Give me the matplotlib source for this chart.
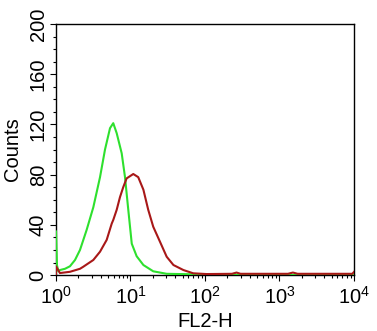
import numpy as np
import matplotlib
matplotlib.use("Agg")
import matplotlib.pyplot as plt
from matplotlib.ticker import MultipleLocator, LogLocator, NullFormatter

plt.rcParams["font.family"] = ["Liberation Sans", "DejaVu Sans"]
plt.rcParams["mathtext.fontset"] = "custom"
plt.rcParams["mathtext.rm"] = "Liberation Sans"
plt.rcParams["mathtext.it"] = "Liberation Sans"

X_LABEL = "FL2-H"
Y_LABEL = "Counts"
GREEN = "#2ee02e"
RED = "#a81818"

# isotype control (green): FL2-H channel value, counts
green_x = [1.0, 1.0, 1.03, 1.074, 1.13, 1.32, 1.54, 1.80, 2.10, 2.58, 3.17,
           3.90, 4.55, 5.31, 5.87, 6.53, 7.62, 8.44, 9.34, 10.4, 12.1, 14.9,
           20.2, 30.6, 86.0, 174.0, 400.0, 10000.0]
green_y = [0, 35, 8, 3, 4, 5, 7, 12, 20, 36, 54,
           78, 100, 117, 121, 113, 97, 78, 52, 25, 15, 8,
           3, 1, 0.5, 0.3, 0, 0]

# stained sample (red)
red_x = [1.0, 1.0, 1.13, 1.54, 2.10, 2.32, 3.17, 3.90, 4.79, 5.60, 5.88,
         6.53, 7.22, 7.99, 8.87, 10.9, 12.7, 14.9, 17.3, 20.2, 24.9,
         30.6, 37.7, 51.3, 69.5, 105.0, 230.0, 265.0, 300.0, 1300.0,
         1514.0, 1750.0, 9500.0, 10000.0]
red_y = [0, 7, 1.6, 2.6, 5, 6.6, 12, 18.6, 28, 41, 44,
         52, 62, 70, 77, 80.5, 78, 68, 52, 38.5, 26.5,
         14.6, 8, 4, 1.4, 0.8, 1, 2, 1, 1,
         2, 1, 1, 2.5]

fig = plt.figure(figsize=(3.77, 3.31), dpi=100)
ax = fig.add_axes([0.1485, 0.169, 0.7905, 0.7585])

ax.plot(green_x, green_y, color=GREEN, linewidth=1.5, zorder=3)
ax.plot(red_x, red_y, color=RED, linewidth=1.5, zorder=4)

ax.set_xscale("log")
ax.set_xlim(1, 1e4)
ax.set_ylim(0, 200)

ax.xaxis.set_major_locator(LogLocator(base=10, numticks=10))
ax.xaxis.set_minor_locator(LogLocator(base=10, subs=np.arange(2, 10), numticks=50))
ax.xaxis.set_minor_formatter(NullFormatter())
ax.yaxis.set_major_locator(MultipleLocator(40))
ax.yaxis.set_minor_locator(MultipleLocator(10))

ax.tick_params(which="both", direction="out", width=0.8, labelsize=14.5)
ax.tick_params(axis="x", pad=4)
ax.tick_params(axis="y", pad=2)
ax.tick_params(which="major", length=4)
ax.tick_params(which="minor", length=2.5)
for lbl in ax.get_yticklabels():
    lbl.set_rotation(90)
    lbl.set_va("center")

for s in ax.spines.values():
    s.set_linewidth(1.0)

ax.set_xlabel(X_LABEL, fontsize=14.5, labelpad=3)
ax.set_ylabel(Y_LABEL, fontsize=14.5, labelpad=5)

fig.savefig("out.png", dpi=100)
